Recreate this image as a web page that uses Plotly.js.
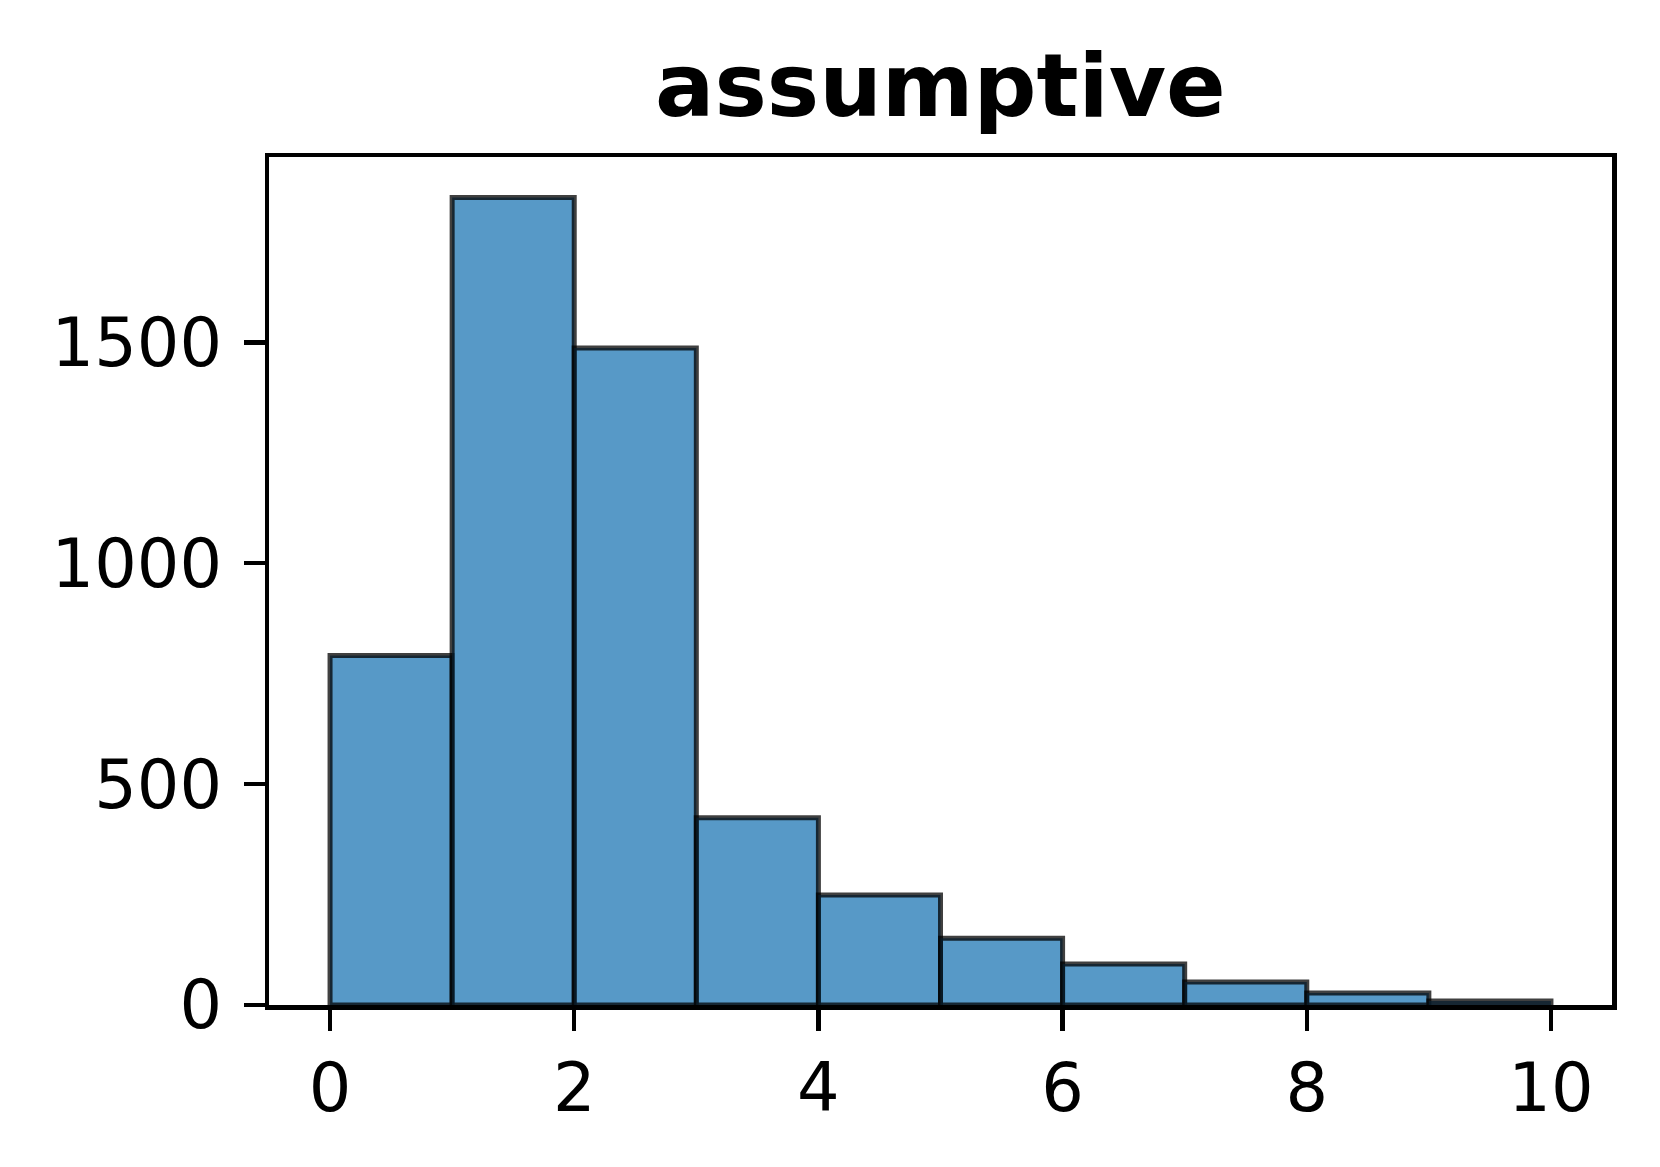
<!DOCTYPE html>
<html>
<head>
<meta charset="utf-8">
<script src="https://cdn.plot.ly/plotly-3.0.1.min.js"></script>
<style>
  html, body { margin: 0; padding: 0; background: white; }
  #chart { width: 1660px; height: 1167px; }
</style>
</head>
<body>
<div id="chart"></div>
<script>
// histogram bins (left edges) and their counts
const binStarts = [0, 1, 2, 3, 4, 5, 6, 7, 8, 9]
const counts = [791, 1828, 1487, 424, 249, 151, 93, 52, 27, 9]
const xTicks = [0, 2, 4, 6, 8, 10]
const yTicks = [0, 500, 1000, 1500]
const chartTitle = 'assumptive'

let binCenters = binStarts.map(b => b + 0.5)
let yMax = Math.max(...counts) * 1.05

let barData = {
  type: 'bar',
  x: binCenters,
  y: counts,
  width: 1,
  marker: {
    color: 'rgba(31,119,180,0.75)',
    line: { color: 'rgba(0,0,0,0.75)', width: 5 }
  },
  hoverinfo: 'none'
}

let axisStyle = {
  showline: true,
  mirror: true,
  linecolor: 'black',
  linewidth: 4.5,
  ticks: 'outside',
  ticklen: 21,
  tickwidth: 4.5,
  tickcolor: 'black',
  showgrid: false,
  zeroline: false,
  tickfont: { family: 'DejaVu Sans', size: 67, color: 'black' }
}

let layout = {
  width: 1660,
  height: 1167,
  paper_bgcolor: 'white',
  plot_bgcolor: 'white',
  margin: { l: 269, r: 48, t: 157, b: 162 },
  showlegend: false,
  title: {
    text: '<b>' + chartTitle + '</b>',
    font: { family: 'DejaVu Sans', size: 88, color: 'black' },
    x: 0.5665,
    xanchor: 'center',
    y: 0.927,
    yref: 'container',
    yanchor: 'middle'
  },
  xaxis: Object.assign({}, axisStyle, {
    range: [-0.5, 10.5],
    tickvals: xTicks,
    ticktext: xTicks.map(String),
    ticklabelstandoff: 0
  }),
  yaxis: Object.assign({}, axisStyle, {
    range: [0, yMax],
    tickvals: yTicks,
    ticktext: yTicks.map(String),
    ticklabelstandoff: 8
  })
}

Plotly.newPlot('chart', [barData], layout, { displayModeBar: false, staticPlot: true })
</script>
</body>
</html>
